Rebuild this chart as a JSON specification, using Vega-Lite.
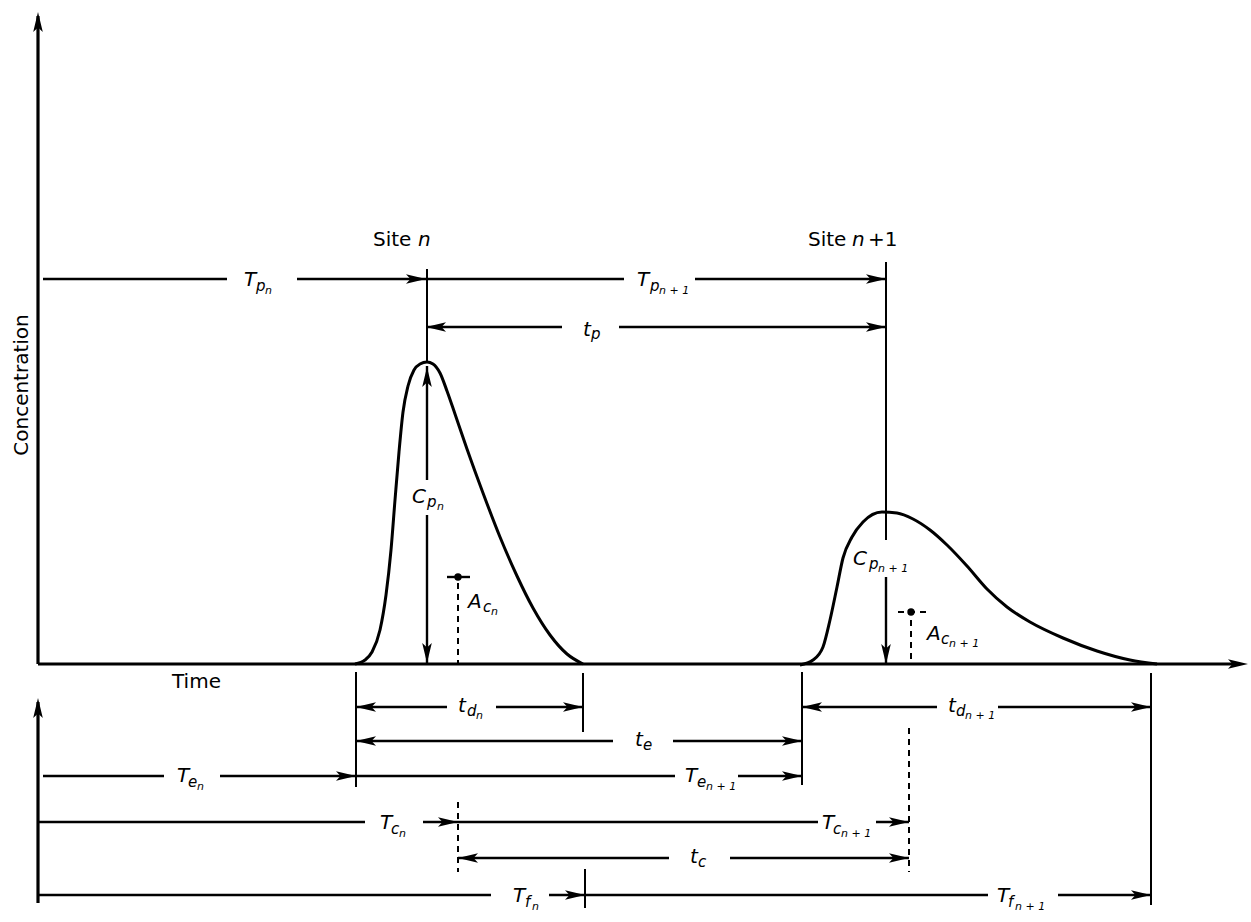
{
  "$schema": "https://vega.github.io/schema/vega-lite/v6.json",
  "width": 1251,
  "height": 922,
  "autosize": {"type": "fit", "contains": "padding"},
  "padding": 0,
  "background": "white",
  "config": {"view": {"stroke": null}},
  "datasets": {
    "curves": [
      {"peak": "n", "x": 355, "y": 664}, {"peak": "n", "x": 365, "y": 660}, {"peak": "n", "x": 372, "y": 652},
      {"peak": "n", "x": 380, "y": 630}, {"peak": "n", "x": 386, "y": 595}, {"peak": "n", "x": 391, "y": 550},
      {"peak": "n", "x": 395, "y": 500}, {"peak": "n", "x": 399, "y": 452}, {"peak": "n", "x": 403, "y": 412},
      {"peak": "n", "x": 408, "y": 386}, {"peak": "n", "x": 414, "y": 370}, {"peak": "n", "x": 420, "y": 364},
      {"peak": "n", "x": 427, "y": 362}, {"peak": "n", "x": 433, "y": 364}, {"peak": "n", "x": 440, "y": 373},
      {"peak": "n", "x": 447, "y": 391}, {"peak": "n", "x": 455, "y": 414}, {"peak": "n", "x": 467, "y": 449},
      {"peak": "n", "x": 483, "y": 493}, {"peak": "n", "x": 500, "y": 537}, {"peak": "n", "x": 517, "y": 576},
      {"peak": "n", "x": 533, "y": 608}, {"peak": "n", "x": 550, "y": 635}, {"peak": "n", "x": 567, "y": 654},
      {"peak": "n", "x": 583, "y": 664},
      {"peak": "n+1", "x": 800, "y": 665}, {"peak": "n+1", "x": 813, "y": 660}, {"peak": "n+1", "x": 823, "y": 647},
      {"peak": "n+1", "x": 830, "y": 620}, {"peak": "n+1", "x": 837, "y": 587}, {"peak": "n+1", "x": 843, "y": 558},
      {"peak": "n+1", "x": 852, "y": 537}, {"peak": "n+1", "x": 863, "y": 522}, {"peak": "n+1", "x": 882, "y": 512},
      {"peak": "n+1", "x": 897, "y": 513}, {"peak": "n+1", "x": 913, "y": 519}, {"peak": "n+1", "x": 930, "y": 530},
      {"peak": "n+1", "x": 947, "y": 545}, {"peak": "n+1", "x": 967, "y": 566}, {"peak": "n+1", "x": 987, "y": 589},
      {"peak": "n+1", "x": 1007, "y": 607}, {"peak": "n+1", "x": 1030, "y": 622}, {"peak": "n+1", "x": 1063, "y": 638},
      {"peak": "n+1", "x": 1097, "y": 651}, {"peak": "n+1", "x": 1130, "y": 660}, {"peak": "n+1", "x": 1157, "y": 664}
    ],
    "segments": [
      {"kind": "axis", "x": 38, "y": 664, "x2": 38, "y2": 16},
      {"kind": "axis", "x": 38, "y": 664, "x2": 1240, "y2": 664},
      {"kind": "axis", "x": 38, "y": 903, "x2": 38, "y2": 702},
      {"kind": "dim", "x": 43, "y": 279, "x2": 227, "y2": 279},
      {"kind": "dim", "x": 297, "y": 279, "x2": 426, "y2": 279},
      {"kind": "dim", "x": 426, "y": 279, "x2": 624, "y2": 279},
      {"kind": "dim", "x": 695, "y": 279, "x2": 886, "y2": 279},
      {"kind": "dim", "x": 426, "y": 327, "x2": 562, "y2": 327},
      {"kind": "dim", "x": 619, "y": 327, "x2": 886, "y2": 327},
      {"kind": "dim", "x": 427, "y": 366, "x2": 427, "y2": 480},
      {"kind": "dim", "x": 427, "y": 515, "x2": 427, "y2": 663},
      {"kind": "dim", "x": 886, "y": 577, "x2": 886, "y2": 664},
      {"kind": "dim", "x": 356, "y": 707, "x2": 447, "y2": 707},
      {"kind": "dim", "x": 496, "y": 707, "x2": 583, "y2": 707},
      {"kind": "dim", "x": 356, "y": 741, "x2": 613, "y2": 741},
      {"kind": "dim", "x": 673, "y": 741, "x2": 802, "y2": 741},
      {"kind": "dim", "x": 43, "y": 776, "x2": 164, "y2": 776},
      {"kind": "dim", "x": 220, "y": 776, "x2": 356, "y2": 776},
      {"kind": "dim", "x": 356, "y": 776, "x2": 675, "y2": 776},
      {"kind": "dim", "x": 738, "y": 776, "x2": 802, "y2": 776},
      {"kind": "dim", "x": 802, "y": 707, "x2": 937, "y2": 707},
      {"kind": "dim", "x": 998, "y": 707, "x2": 1151, "y2": 707},
      {"kind": "dim", "x": 38, "y": 822, "x2": 365, "y2": 822},
      {"kind": "dim", "x": 423, "y": 822, "x2": 458, "y2": 822},
      {"kind": "dim", "x": 458, "y": 822, "x2": 818, "y2": 822},
      {"kind": "dim", "x": 876, "y": 822, "x2": 909, "y2": 822},
      {"kind": "dim", "x": 458, "y": 858, "x2": 669, "y2": 858},
      {"kind": "dim", "x": 730, "y": 858, "x2": 909, "y2": 858},
      {"kind": "dim", "x": 38, "y": 895, "x2": 491, "y2": 895},
      {"kind": "dim", "x": 549, "y": 895, "x2": 585, "y2": 895},
      {"kind": "dim", "x": 585, "y": 895, "x2": 988, "y2": 895},
      {"kind": "dim", "x": 1058, "y": 895, "x2": 1151, "y2": 895},
      {"kind": "dim", "x": 447, "y": 577, "x2": 470, "y2": 577},
      {"kind": "ext", "x": 427, "y": 269, "x2": 427, "y2": 362},
      {"kind": "ext", "x": 886, "y": 262, "x2": 886, "y2": 540},
      {"kind": "ext", "x": 356, "y": 672, "x2": 356, "y2": 787},
      {"kind": "ext", "x": 583, "y": 673, "x2": 583, "y2": 732},
      {"kind": "ext", "x": 802, "y": 672, "x2": 802, "y2": 785},
      {"kind": "ext", "x": 1151, "y": 673, "x2": 1151, "y2": 905},
      {"kind": "ext", "x": 585, "y": 869, "x2": 585, "y2": 908},
      {"kind": "dashed", "x": 458, "y": 583, "x2": 458, "y2": 663},
      {"kind": "dashed", "x": 898, "y": 612, "x2": 927, "y2": 612},
      {"kind": "dashed", "x": 911, "y": 620, "x2": 911, "y2": 664},
      {"kind": "dashed", "x": 458, "y": 802, "x2": 458, "y2": 872},
      {"kind": "dashed", "x": 909, "y": 728, "x2": 909, "y2": 872}
    ],
    "arrows": [
      {"x": 38, "y": 12, "heading": 270},
      {"x": 1248, "y": 664, "heading": 0},
      {"x": 38, "y": 698, "heading": 270},
      {"x": 426, "y": 279, "heading": 0},
      {"x": 886, "y": 279, "heading": 0},
      {"x": 426, "y": 327, "heading": 180},
      {"x": 886, "y": 327, "heading": 0},
      {"x": 427, "y": 367, "heading": 270},
      {"x": 427, "y": 663, "heading": 90},
      {"x": 886, "y": 664, "heading": 90},
      {"x": 356, "y": 707, "heading": 180},
      {"x": 583, "y": 707, "heading": 0},
      {"x": 356, "y": 741, "heading": 180},
      {"x": 802, "y": 741, "heading": 0},
      {"x": 356, "y": 776, "heading": 0},
      {"x": 802, "y": 776, "heading": 0},
      {"x": 802, "y": 707, "heading": 180},
      {"x": 1151, "y": 707, "heading": 0},
      {"x": 458, "y": 822, "heading": 0},
      {"x": 909, "y": 822, "heading": 0},
      {"x": 458, "y": 858, "heading": 180},
      {"x": 909, "y": 858, "heading": 0},
      {"x": 585, "y": 895, "heading": 0},
      {"x": 1151, "y": 895, "heading": 0}
    ],
    "dots": [
      {"x": 458, "y": 577},
      {"x": 911, "y": 612}
    ],
    "labels": [
      {"role": "symbol", "text": "T", "x": 244, "y": 286},
      {"role": "sub", "text": "p", "x": 256, "y": 291},
      {"role": "subsub", "text": "n", "x": 265, "y": 294},
      {"role": "symbol", "text": "T", "x": 637, "y": 286},
      {"role": "sub", "text": "p", "x": 650, "y": 291},
      {"role": "subsub", "text": "n + 1", "x": 659, "y": 294},
      {"role": "symbol", "text": "t", "x": 583, "y": 336},
      {"role": "sub", "text": "p", "x": 591, "y": 339},
      {"role": "symbol", "text": "C", "x": 412, "y": 503},
      {"role": "sub", "text": "p", "x": 427, "y": 507},
      {"role": "subsub", "text": "n", "x": 437, "y": 510},
      {"role": "symbol", "text": "A", "x": 468, "y": 608},
      {"role": "sub", "text": "c", "x": 483, "y": 612},
      {"role": "subsub", "text": "n", "x": 491, "y": 615},
      {"role": "symbol", "text": "C", "x": 853, "y": 565},
      {"role": "sub", "text": "p", "x": 869, "y": 569},
      {"role": "subsub", "text": "n + 1", "x": 878, "y": 572},
      {"role": "symbol", "text": "A", "x": 927, "y": 640},
      {"role": "sub", "text": "c", "x": 941, "y": 644},
      {"role": "subsub", "text": "n + 1", "x": 949, "y": 647},
      {"role": "symbol", "text": "t", "x": 458, "y": 712},
      {"role": "sub", "text": "d", "x": 467, "y": 716},
      {"role": "subsub", "text": "n", "x": 476, "y": 719},
      {"role": "symbol", "text": "t", "x": 635, "y": 746},
      {"role": "sub", "text": "e", "x": 643, "y": 750},
      {"role": "symbol", "text": "T", "x": 177, "y": 782},
      {"role": "sub", "text": "e", "x": 188, "y": 787},
      {"role": "subsub", "text": "n", "x": 197, "y": 790},
      {"role": "symbol", "text": "T", "x": 685, "y": 782},
      {"role": "sub", "text": "e", "x": 697, "y": 787},
      {"role": "subsub", "text": "n + 1", "x": 706, "y": 790},
      {"role": "symbol", "text": "t", "x": 948, "y": 712},
      {"role": "sub", "text": "d", "x": 956, "y": 716},
      {"role": "subsub", "text": "n + 1", "x": 965, "y": 719},
      {"role": "symbol", "text": "T", "x": 380, "y": 829},
      {"role": "sub", "text": "c", "x": 391, "y": 834},
      {"role": "subsub", "text": "n", "x": 399, "y": 837},
      {"role": "symbol", "text": "T", "x": 822, "y": 829},
      {"role": "sub", "text": "c", "x": 833, "y": 834},
      {"role": "subsub", "text": "n + 1", "x": 841, "y": 837},
      {"role": "symbol", "text": "t", "x": 690, "y": 863},
      {"role": "sub", "text": "c", "x": 698, "y": 867},
      {"role": "symbol", "text": "T", "x": 513, "y": 902},
      {"role": "sub", "text": "f", "x": 525, "y": 907},
      {"role": "subsub", "text": "n", "x": 532, "y": 910},
      {"role": "symbol", "text": "T", "x": 997, "y": 902},
      {"role": "sub", "text": "f", "x": 1008, "y": 907},
      {"role": "subsub", "text": "n + 1", "x": 1015, "y": 910},
      {"role": "caption", "text": "Time", "x": 172, "y": 688},
      {"role": "caption", "text": "Site", "x": 373, "y": 246},
      {"role": "captionItalic", "text": "n", "x": 418, "y": 246},
      {"role": "caption", "text": "Site", "x": 808, "y": 246},
      {"role": "captionItalic", "text": "n", "x": 852, "y": 246},
      {"role": "caption", "text": "+1", "x": 868, "y": 246},
      {"role": "yTitle", "text": "Concentration", "x": 22, "y": 385}
    ]
  },
  "encoding": {
    "x": {"field": "x", "type": "quantitative", "scale": {"domain": [0, 1251], "nice": false, "zero": false}, "axis": null},
    "y": {"field": "y", "type": "quantitative", "scale": {"domain": [0, 922], "reverse": true, "nice": false, "zero": false}, "axis": null}
  },
  "layer": [
    {
      "data": {"name": "curves"},
      "mark": {"type": "line", "interpolate": "monotone", "strokeWidth": 3, "color": "black"},
      "encoding": {"detail": {"field": "peak", "type": "nominal"}}
    },
    {
      "data": {"name": "segments"},
      "transform": [{"filter": "datum.kind === 'axis'"}],
      "mark": {"type": "rule", "strokeWidth": 3.2, "color": "black"},
      "encoding": {"x2": {"field": "x2"}, "y2": {"field": "y2"}}
    },
    {
      "data": {"name": "segments"},
      "transform": [{"filter": "datum.kind === 'dim'"}],
      "mark": {"type": "rule", "strokeWidth": 2.4, "color": "black"},
      "encoding": {"x2": {"field": "x2"}, "y2": {"field": "y2"}}
    },
    {
      "data": {"name": "segments"},
      "transform": [{"filter": "datum.kind === 'ext'"}],
      "mark": {"type": "rule", "strokeWidth": 2, "color": "black"},
      "encoding": {"x2": {"field": "x2"}, "y2": {"field": "y2"}}
    },
    {
      "data": {"name": "segments"},
      "transform": [{"filter": "datum.kind === 'dashed'"}],
      "mark": {"type": "rule", "strokeWidth": 2, "strokeDash": [6, 5], "color": "black"},
      "encoding": {"x2": {"field": "x2"}, "y2": {"field": "y2"}}
    },
    {
      "data": {"name": "arrows"},
      "mark": {"type": "point", "shape": "M0,0L-2,-0.48L-1.55,0L-2,0.48Z", "filled": true, "size": 400, "color": "black", "opacity": 1, "strokeWidth": 0},
      "encoding": {
        "angle": {"field": "heading", "type": "quantitative", "scale": null}
      }
    },
    {
      "data": {"name": "dots"},
      "mark": {"type": "point", "shape": "circle", "filled": true, "size": 55, "color": "black", "opacity": 1}
    },
    {
      "data": {"name": "labels"},
      "transform": [{"filter": "datum.role === 'symbol'"}],
      "mark": {"type": "text", "font": "DejaVu Sans", "fontSize": 20, "fontStyle": "italic", "align": "left", "baseline": "alphabetic", "color": "black"},
      "encoding": {"text": {"field": "text"}}
    },
    {
      "data": {"name": "labels"},
      "transform": [{"filter": "datum.role === 'sub'"}],
      "mark": {"type": "text", "font": "DejaVu Sans", "fontSize": 15, "fontStyle": "italic", "align": "left", "baseline": "alphabetic", "color": "black"},
      "encoding": {"text": {"field": "text"}}
    },
    {
      "data": {"name": "labels"},
      "transform": [{"filter": "datum.role === 'subsub'"}],
      "mark": {"type": "text", "font": "DejaVu Sans", "fontSize": 11, "fontStyle": "italic", "align": "left", "baseline": "alphabetic", "color": "black"},
      "encoding": {"text": {"field": "text"}}
    },
    {
      "data": {"name": "labels"},
      "transform": [{"filter": "datum.role === 'caption'"}],
      "mark": {"type": "text", "font": "DejaVu Sans", "fontSize": 20, "align": "left", "baseline": "alphabetic", "color": "black"},
      "encoding": {"text": {"field": "text"}}
    },
    {
      "data": {"name": "labels"},
      "transform": [{"filter": "datum.role === 'captionItalic'"}],
      "mark": {"type": "text", "font": "DejaVu Sans", "fontSize": 20, "fontStyle": "italic", "align": "left", "baseline": "alphabetic", "color": "black"},
      "encoding": {"text": {"field": "text"}}
    },
    {
      "data": {"name": "labels"},
      "transform": [{"filter": "datum.role === 'yTitle'"}],
      "mark": {"type": "text", "font": "DejaVu Sans", "fontSize": 20, "angle": 270, "align": "center", "baseline": "middle", "color": "black"},
      "encoding": {"text": {"field": "text"}}
    }
  ]
}
